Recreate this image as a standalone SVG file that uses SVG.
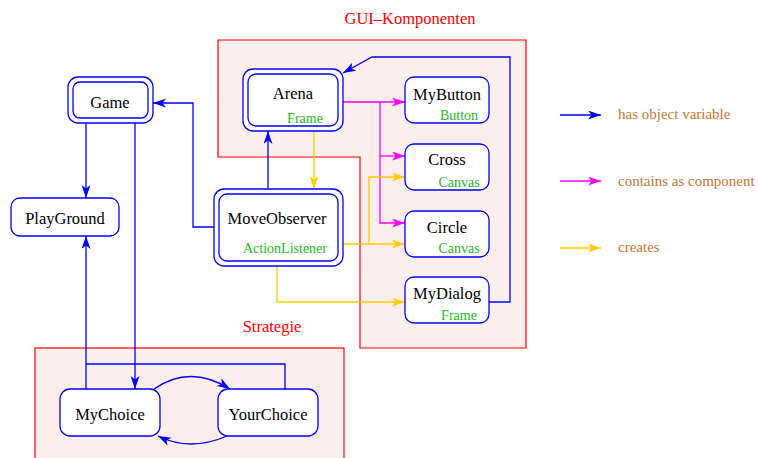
<svg xmlns="http://www.w3.org/2000/svg" width="758" height="458" viewBox="0 0 758 458">
<defs>
<marker id="ab" markerUnits="userSpaceOnUse" markerWidth="14" markerHeight="10" refX="13" refY="4.5" orient="auto"><path d="M0,0 L13,4.5 L0,9 L3.5,4.5 z" fill="#0000ff"/></marker>
<marker id="am" markerUnits="userSpaceOnUse" markerWidth="14" markerHeight="10" refX="13" refY="4.5" orient="auto"><path d="M0,0 L13,4.5 L0,9 L3.5,4.5 z" fill="#ff00ff"/></marker>
<marker id="ay" markerUnits="userSpaceOnUse" markerWidth="14" markerHeight="10" refX="13" refY="4.5" orient="auto"><path d="M0,0 L13,4.5 L0,9 L3.5,4.5 z" fill="#ffcc00"/></marker>
</defs>
<style>
text{font-family:"Liberation Serif","Times New Roman",serif;}
.n{fill:#fff;stroke:#0000ff;stroke-width:1.3;}
.t{font-size:16.5px;fill:#000;text-anchor:middle;}
.g{font-size:14px;fill:#22b822;text-anchor:middle;}
.r{fill:#ff0000;font-size:16.5px;text-anchor:middle;}
.grp{fill:#fdeeee;stroke:#ff0000;stroke-width:1.2;}
.cb{fill:none;stroke:#0000ff;stroke-width:1.3;}
.cm{fill:none;stroke:#ff00ff;stroke-width:1.3;}
.cy{fill:none;stroke:#ffcc00;stroke-width:1.3;}
.lg{font-size:15px;fill:#c87533;}
</style>
<rect width="758" height="458" fill="#fff"/>
<g id="groups">
<path class="grp" d="M218,40 H526 V348 H360 V157 H218 Z"/>
<text class="r" x="410" y="24">GUI–Komponenten</text>
<rect class="grp" x="35" y="348" width="309" height="120"/>
<text class="r" x="272" y="332">Strategie</text>
</g>
<g id="connectors">
<path class="cb" d="M86,123 V198" marker-end="url(#ab)"/>
<path class="cb" d="M135,123 V389" marker-end="url(#ab)"/>
<path class="cb" d="M285,389 V364 H86"/>
<path class="cb" d="M86,389 V236" marker-end="url(#ab)"/>
<path class="cb" d="M214,227 H193 V103 H153" marker-end="url(#ab)"/>
<path class="cb" d="M268,189 V131" marker-end="url(#ab)"/>
<path class="cb" d="M489,302 H510 V57 H372 L343,73" marker-end="url(#ab)"/>
<path class="cb" d="M154,389 Q190,364 230,389" marker-end="url(#ab)"/>
<path class="cb" d="M227,436 Q190,452 158,436" marker-end="url(#ab)"/>
<path class="cm" d="M343,102 H405" marker-end="url(#am)"/>
<path class="cm" d="M380,102 V223 H405" marker-end="url(#am)"/>
<path class="cm" d="M380,156 H405" marker-end="url(#am)"/>
<path class="cy" d="M314,131 V189" marker-end="url(#ay)"/>
<path class="cy" d="M343,244 H405" marker-end="url(#ay)"/>
<path class="cy" d="M369,244 V177 H405" marker-end="url(#ay)"/>
<path class="cy" d="M277,266 V302 H405" marker-end="url(#ay)"/>
</g>
<g id="Game">
<rect class="n" x="68" y="77" width="85" height="46" rx="10"/>
<rect class="n" x="73" y="82" width="75" height="36" rx="7"/>
<text class="t" x="110" y="108">Game</text>
</g>
<g id="PlayGround">
<rect class="n" x="11" y="198" width="108" height="38" rx="9"/>
<text class="t" x="65" y="224">PlayGround</text>
</g>
<g id="Arena">
<rect class="n" x="243" y="69" width="100" height="62" rx="10"/>
<rect class="n" x="248" y="74" width="90" height="52" rx="8"/>
<text class="t" x="293" y="99">Arena</text>
<text class="g" x="305" y="123">Frame</text>
</g>
<g id="MoveObserver">
<rect class="n" x="214" y="189" width="129" height="77" rx="10"/>
<rect class="n" x="219" y="194" width="119" height="67" rx="8"/>
<text class="t" x="277" y="224">MoveObserver</text>
<text class="g" x="285" y="253">ActionListener</text>
</g>
<g id="MyButton">
<rect class="n" x="405" y="77" width="84" height="46" rx="9"/>
<text class="t" x="447" y="100">MyButton</text>
<text class="g" x="459" y="120">Button</text>
</g>
<g id="Cross">
<rect class="n" x="405" y="144" width="84" height="46" rx="9"/>
<text class="t" x="447" y="165">Cross</text>
<text class="g" x="459" y="187">Canvas</text>
</g>
<g id="Circle">
<rect class="n" x="405" y="211" width="84" height="46" rx="9"/>
<text class="t" x="447" y="233">Circle</text>
<text class="g" x="459" y="253">Canvas</text>
</g>
<g id="MyDialog">
<rect class="n" x="405" y="277" width="84" height="46" rx="9"/>
<text class="t" x="447" y="299">MyDialog</text>
<text class="g" x="459" y="320">Frame</text>
</g>
<g id="MyChoice">
<rect class="n" x="60" y="389" width="100" height="47" rx="10"/>
<text class="t" x="110" y="420">MyChoice</text>
</g>
<g id="YourChoice">
<rect class="n" x="218" y="389" width="100" height="47" rx="10"/>
<text class="t" x="268" y="420">YourChoice</text>
</g>
<g id="legend">
<path class="cb" d="M560,115 H601" marker-end="url(#ab)"/>
<text class="lg" x="618" y="119">has object variable</text>
<path class="cm" d="M560,181 H601" marker-end="url(#am)"/>
<text class="lg" x="618" y="186">contains as component</text>
<path class="cy" d="M560,248 H601" marker-end="url(#ay)"/>
<text class="lg" x="618" y="252">creates</text>
</g>
</svg>
